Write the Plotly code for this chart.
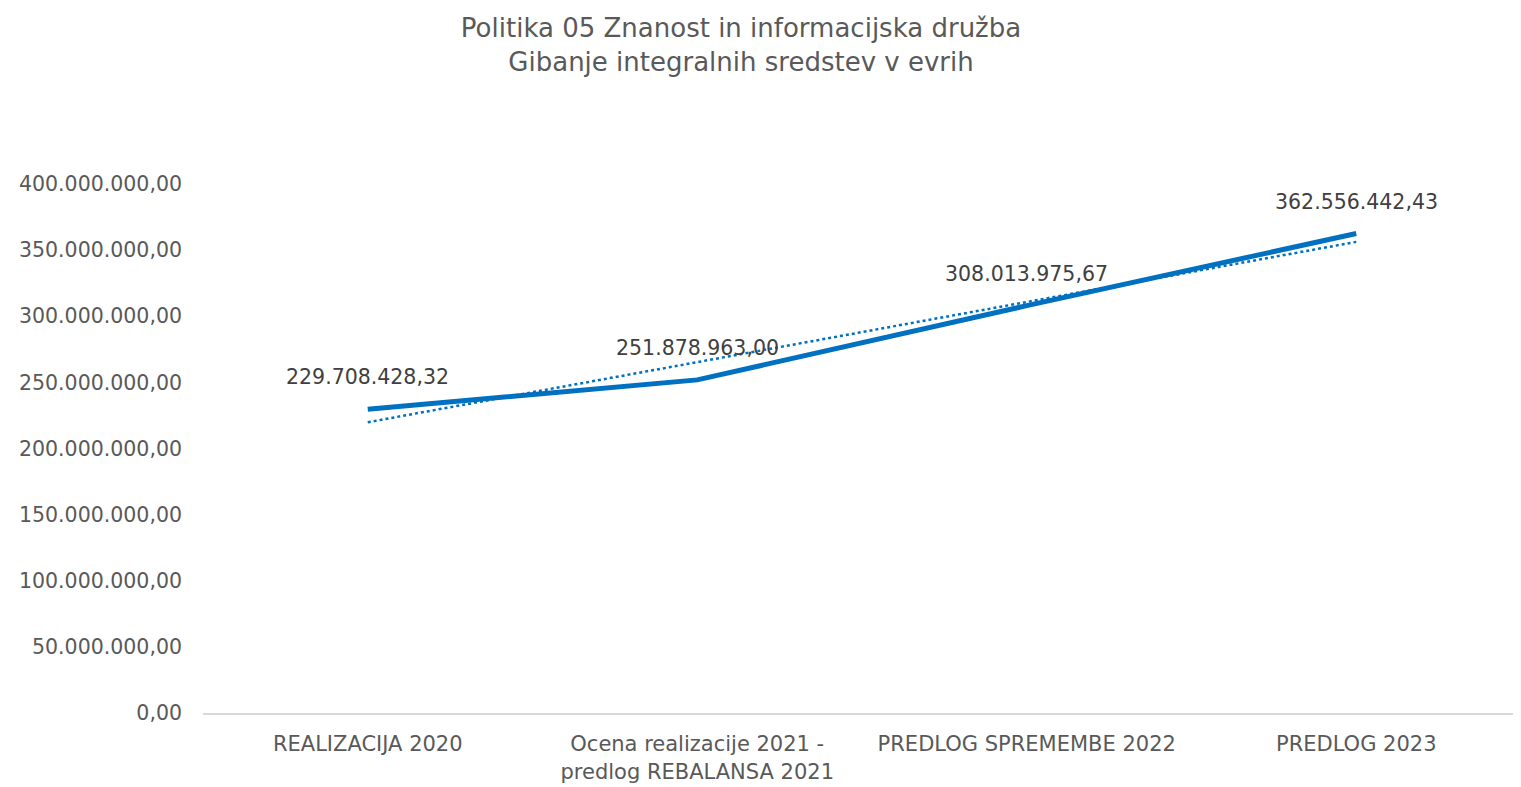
import numpy as np
import plotly.graph_objects as go

categories = ["REALIZACIJA 2020", "Ocena realizacije 2021 -<br>predlog REBALANSA 2021",
              "PREDLOG SPREMEMBE 2022", "PREDLOG 2023"]
values = [229708428.32, 251878963.00, 308013975.67, 362556442.43]
y_ticks = [0, 50e6, 100e6, 150e6, 200e6, 250e6, 300e6, 350e6, 400e6]

blue = "#0070C0"
grey = "#595959"
font_fam = "DejaVu Sans, sans-serif"

# linear trendline (least squares over category index)
idx = np.arange(len(values))
slope, intercept = np.polyfit(idx, values, 1)
trend = slope * idx + intercept

def fmt(v):
    s = f"{v:,.2f}"
    return s.replace(",", "X").replace(".", ",").replace("X", ".")

fig = go.Figure()
fig.add_trace(go.Scatter(x=categories, y=trend, mode="lines",
                         line=dict(color=blue, width=2.5, dash="dot"),
                         hoverinfo="skip", showlegend=False))
fig.add_trace(go.Scatter(x=categories, y=values, mode="lines",
                         line=dict(color=blue, width=5), showlegend=False))

for c, v in zip(categories, values):
    fig.add_annotation(x=c, y=v, text=fmt(v), showarrow=False, yshift=32,
                       font=dict(size=20.5, color="#404040", family=font_fam))

fig.update_layout(
    width=1513, height=779,
    paper_bgcolor="white", plot_bgcolor="white",
    separators=",.",
    margin=dict(l=195, r=0, t=176, b=74),
    title=dict(text="Politika 05 Znanost in informacijska družba<br>Gibanje integralnih sredstev v evrih",
               xref="container", x=0.4845, xanchor="center",
               yref="container", y=0.963, yanchor="top",
               font=dict(size=26, color=grey, family=font_fam)),
    xaxis=dict(showline=True, linecolor="#D9D9D9", linewidth=2, showgrid=False,
               ticks="", ticklabelstandoff=11, range=[-0.5, 3.5],
               tickfont=dict(size=21, color=grey, family=font_fam)),
    yaxis=dict(range=[0, 400e6], tickvals=y_ticks, tickformat=",.2f",
               showgrid=False, zeroline=False, ticks="", ticklabelstandoff=20,
               tickfont=dict(size=20.5, color=grey, family=font_fam)),
)

fig.write_html("out.html")
